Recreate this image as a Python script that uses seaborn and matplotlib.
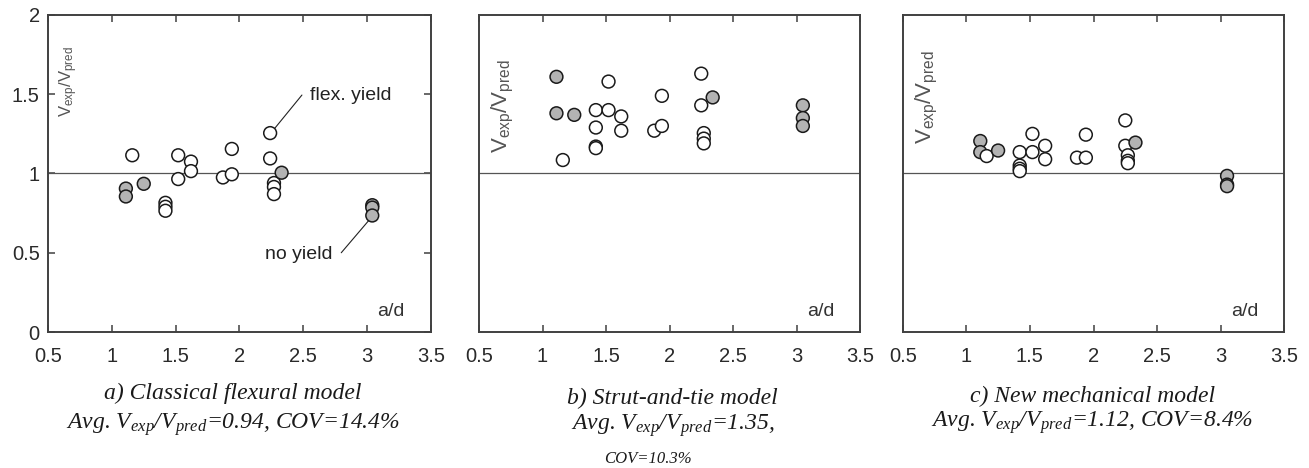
import matplotlib
matplotlib.use("Agg")
import matplotlib.pyplot as plt
import pandas as pd
import seaborn as sns

# ---------------- data ----------------
# a) Classical flexural model
a_ad = [1.16, 1.11, 1.11, 1.25, 1.42, 1.42, 1.42, 1.52, 1.52, 1.62, 1.62, 1.87,
        1.94, 1.94, 2.24, 2.24, 2.27, 2.27, 2.27, 2.33, 3.04, 3.04, 3.04]
a_ratio = [1.115, 0.905, 0.855, 0.935, 0.815, 0.79, 0.765, 1.115, 0.965, 1.075, 1.015, 0.975,
           1.155, 0.995, 1.255, 1.095, 0.94, 0.915, 0.87, 1.005, 0.80, 0.785, 0.735]
a_filled = [0, 1, 1, 1, 0, 0, 0, 0, 0, 0, 0, 0,
            0, 0, 0, 0, 0, 0, 0, 1, 1, 1, 1]

# b) Strut-and-tie model
b_ad = [1.11, 1.11, 1.25, 1.16, 1.42, 1.42, 1.42, 1.42, 1.52, 1.52, 1.62, 1.62,
        1.88, 1.94, 1.94, 2.25, 2.25, 2.34, 2.27, 2.27, 2.27, 3.05, 3.05, 3.05]
b_ratio = [1.61, 1.38, 1.37, 1.085, 1.40, 1.29, 1.17, 1.16, 1.58, 1.40, 1.36, 1.27,
           1.27, 1.49, 1.30, 1.63, 1.43, 1.48, 1.255, 1.22, 1.19, 1.43, 1.35, 1.30]
b_filled = [1, 1, 1, 0, 0, 0, 0, 0, 0, 0, 0, 0,
            0, 0, 0, 0, 0, 1, 0, 0, 0, 1, 1, 1]

# c) New mechanical model
c_ad = [1.11, 1.11, 1.16, 1.25, 1.42, 1.42, 1.42, 1.42, 1.52, 1.52, 1.62, 1.62,
        1.87, 1.94, 1.94, 2.25, 2.25, 2.33, 2.27, 2.27, 2.27, 3.05, 3.05, 3.05]
c_ratio = [1.205, 1.135, 1.11, 1.145, 1.135, 1.05, 1.03, 1.015, 1.25, 1.135, 1.175, 1.09,
           1.10, 1.10, 1.245, 1.335, 1.175, 1.195, 1.115, 1.08, 1.065, 0.985, 0.93, 0.92]
c_filled = [1, 1, 0, 1, 0, 0, 0, 0, 0, 0, 0, 0,
            0, 0, 0, 0, 0, 1, 0, 0, 0, 1, 1, 1]

x_ticks = [0.5, 1, 1.5, 2, 2.5, 3, 3.5]
x_tick_labels = ["0.5", "1", "1.5", "2", "2.5", "3", "3.5"]
y_ticks = [0, 0.5, 1, 1.5, 2]
y_tick_labels = ["0", "0.5", "1", "1.5", "2"]

captions = [
    ["a) Classical flexural model", "Avg. $V_{exp}$/$V_{pred}$=0.94, COV=14.4%"],
    ["b) Strut-and-tie model", "Avg. $V_{exp}$/$V_{pred}$=1.35,", "COV=10.3%"],
    ["c) New mechanical model", "Avg. $V_{exp}$/$V_{pred}$=1.12, COV=8.4%"],
]

# ---------------- style ----------------
sns.set_theme(style="ticks")
plt.rcParams["font.family"] = ["Liberation Sans", "DejaVu Sans"]
plt.rcParams["mathtext.default"] = "regular"

W, H = 1309, 468
fig = plt.figure(figsize=(W / 100, H / 100), dpi=100)

ax_px = [(48, 383), (479, 381), (902.7, 381.6)]
top_px, bot_px = 15, 332
spine_col = "#404040"

panels = [(a_ad, a_ratio, a_filled), (b_ad, b_ratio, b_filled), (c_ad, c_ratio, c_filled)]
ylab_pos = [(0.0535, 0.79, 12), (0.064, 0.714, 16), (0.0637, 0.74, 16)]

axes = []
for i, ((xs, ys, fl), (left, width)) in enumerate(zip(panels, ax_px)):
    ax = fig.add_axes([left / W, (H - bot_px) / H, width / W, (bot_px - top_px) / H])
    axes.append(ax)
    df = pd.DataFrame({"ad": xs, "ratio": ys,
                       "kind": ["filled" if f else "open" for f in fl]})
    ax.axhline(1.0, color="#555555", lw=0.9, zorder=1)
    sns.scatterplot(data=df, x="ad", y="ratio", hue="kind",
                    palette={"open": "white", "filled": "#b3b3b3"},
                    edgecolor="#1a1a1a", linewidth=1.1, s=85,
                    legend=False, ax=ax, zorder=3)
    ax.set_xlim(0.5, 3.5)
    ax.set_ylim(0, 2)
    ax.set_xlabel("")
    ax.set_ylabel("")
    ax.set_xticks(x_ticks)
    ax.set_xticklabels(x_tick_labels)
    if i == 0:
        ax.set_yticks(y_ticks)
        ax.set_yticklabels(y_tick_labels)
    else:
        ax.set_yticks([])
    ax.tick_params(direction="in", top=True, right=True, length=5, width=1.1,
                   color=spine_col, labelsize=14.5, labelcolor="#2a2a2a")
    ax.tick_params(axis="x", pad=10.5)
    ax.tick_params(axis="y", pad=6)
    for sp in ax.spines.values():
        sp.set_visible(True)
        sp.set_color(spine_col)
        sp.set_linewidth(1.4)
    lx, ly, lfs = ylab_pos[i]
    ax.text(lx, ly, "$V_{exp}$/$V_{pred}$", rotation=90, ha="center", va="center",
            transform=ax.transAxes, fontsize=lfs, color="#555555")
    ax.text(0.932, 0.066, "a/d", ha="right", va="center", transform=ax.transAxes,
            fontsize=14, color="#333333")

# annotations in panel a
ax0 = axes[0]
ax0.text(2.549, 1.489, "flex. yield", ha="left", va="center", fontsize=14, color="#222222")
ax0.plot([2.489, 2.270], [1.495, 1.279], color="#222222", lw=0.8, zorder=2)
ax0.text(2.203, 0.492, "no yield", ha="left", va="center", fontsize=14, color="#222222")
ax0.plot([2.797, 3.031], [0.500, 0.721], color="#222222", lw=0.8, zorder=2)

# captions
cap_kw = dict(family=["Liberation Serif", "DejaVu Serif"], style="italic",
              color="#1a1a1a", ha="center", va="baseline")
cap_pos = [
    [(233, 399, 17), (233, 429, 17)],
    [(672.5, 404, 17), (673, 430, 17), (647.5, 463, 12)],
    [(1092.5, 402, 17), (1092.5, 427, 17)],
]
for lines, poss in zip(captions, cap_pos):
    for txt, (cx, cy, fs) in zip(lines, poss):
        fig.text(cx / W, (H - cy) / H, txt, fontsize=fs, **cap_kw)

fig.savefig("out.png", dpi=100)
